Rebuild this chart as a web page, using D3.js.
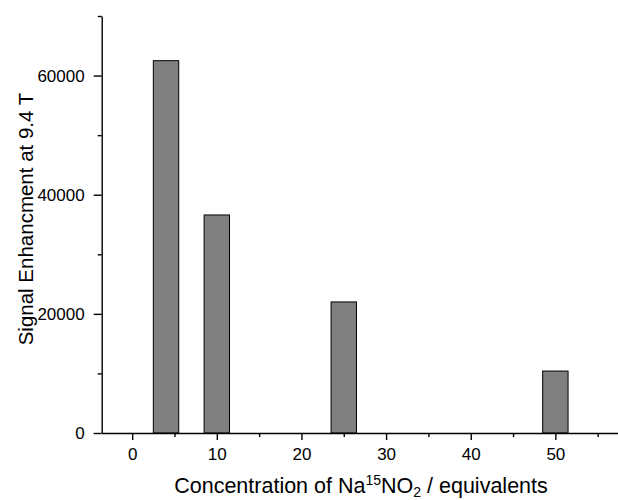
<!DOCTYPE html>
<html>
<head>
<meta charset="utf-8">
<script src="https://cdn.jsdelivr.net/npm/d3@7"></script>
<style>
  body { margin: 0; background: #fff; }
  svg { display: block; font-family: "Liberation Sans", Arial, sans-serif; }
  .axis path, .axis line { stroke: #000; stroke-width: 1.4; }
  .axis text { font-family: "Liberation Sans", Arial, sans-serif; font-size: 17px; fill: #000; }
</style>
</head>
<body>
<div class="chart"></div>
<script>
// data
var concentrations = [4, 10, 25, 50];
var enhancement = [62500, 36600, 22000, 10400];
var barWidth = 3;            // in concentration units
var xTicks = [0, 10, 20, 30, 40, 50];
var xMinorTicks = [5, 15, 25, 35, 45, 55];
var yTicks = [0, 20000, 40000, 60000];
var yMinorTicks = [10000, 30000, 50000, 70000];

var width = 618, height = 500;
var svg = d3.select(".chart").append("svg")
    .attr("width", width)
    .attr("height", height);

var x = d3.scaleLinear().domain([-3.6, 57.4]).range([101.7, 618]);
var y = d3.scaleLinear().domain([0, 70000]).range([433, 16]);

var data = concentrations.map(function (c, i) {
    return { c: c, v: enhancement[i] };
});

/* bars */
svg.append("g")
    .selectAll("rect")
    .data(data)
    .enter()
    .append("rect")
    .attr("x", function (d) { return x(d.c - barWidth / 2); })
    .attr("width", function (d) { return x(d.c + barWidth / 2) - x(d.c - barWidth / 2); })
    .attr("y", function (d) { return y(d.v); })
    .attr("height", function (d) { return y(0) - y(d.v); })
    .attr("fill", "#808080")
    .attr("stroke", "#000")
    .attr("stroke-width", 1);

// x axis, major then minor ticks
svg.append("g")
    .attr("class", "axis")
    .attr("transform", "translate(0," + y(0) + ")")
    .call(d3.axisBottom(x).tickValues(xTicks).tickFormat(d3.format("d"))
        .tickSize(7).tickPadding(8).tickSizeOuter(0));
svg.append("g")
    .attr("class", "axis")
    .attr("transform", "translate(0," + y(0) + ")")
    .call(d3.axisBottom(x).tickValues(xMinorTicks).tickSize(4).tickFormat("").tickSizeOuter(0))
    .select(".domain").remove();

// y axis
svg.append("g")
    .attr("class", "axis")
    .attr("transform", "translate(" + x.range()[0] + ",0)")
    .call(d3.axisLeft(y).tickValues(yTicks).tickFormat(d3.format("d"))
        .tickSize(8).tickPadding(9).tickSizeOuter(0));
svg.append("g")
    .attr("class", "axis")
    .attr("transform", "translate(" + x.range()[0] + ",0)")
    .call(d3.axisLeft(y).tickValues(yMinorTicks).tickSize(4).tickFormat("").tickSizeOuter(0))
    .select(".domain").remove();

/* axis titles */
svg.append("text")
    .attr("transform", "translate(33,219) rotate(-90)")
    .attr("text-anchor", "middle")
    .style("font-size", "20.5px")
    .text("Signal Enhancment at 9.4 T");

var xTitle = svg.append("text")
    .attr("x", 361)
    .attr("y", 493)
    .attr("text-anchor", "middle")
    .style("font-size", "21.5px");
xTitle.append("tspan").text("Concentration of Na");
xTitle.append("tspan").attr("dy", -8).style("font-size", "14px").text("15");
xTitle.append("tspan").attr("dy", 8).text("NO");
xTitle.append("tspan").attr("dy", 4).style("font-size", "14px").text("2");
xTitle.append("tspan").attr("dy", -4).text(" / equivalents");
</script>
</body>
</html>
